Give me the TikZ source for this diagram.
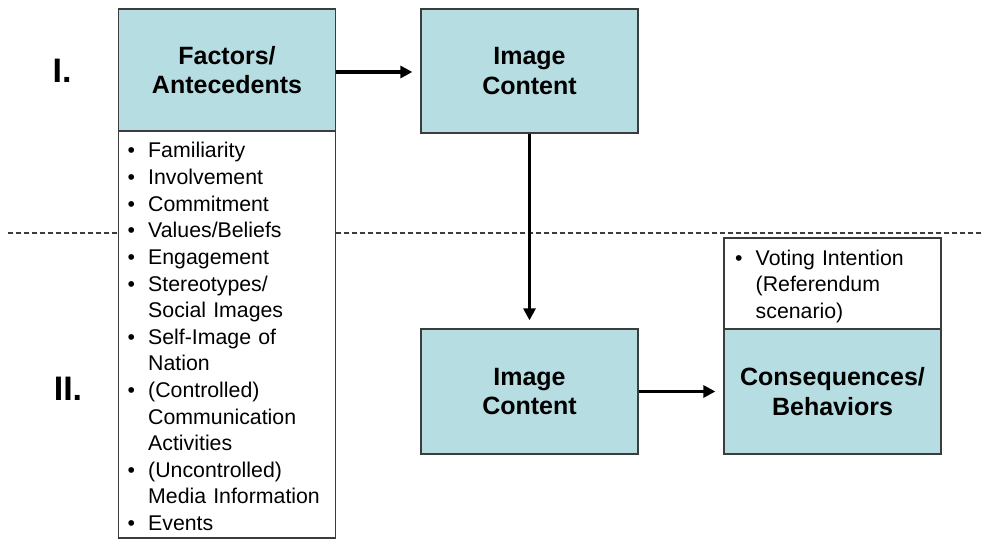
\documentclass[tikz,border=0pt]{standalone}
\usepackage{fontspec}
\setmainfont{Liberation Sans}
\usetikzlibrary{arrows.meta}
\definecolor{boxteal}{RGB}{182,221,226}
\definecolor{edge}{RGB}{60,60,60}
\newcommand{\bul}{\makebox[20.5pt][l]{•}}
\newcommand{\ind}{\hspace*{20.5pt}}
\tikzset{
  titlebox/.style={draw=edge, line width=1.3pt, fill=boxteal, minimum width=217pt, align=center,
    font=\fontsize{25}{29.5}\selectfont\bfseries, inner sep=0pt},
  listbox/.style={draw=edge, line width=1.3pt, fill=white, minimum width=217pt, inner sep=0pt},
  listtext/.style={anchor=base west, inner sep=0pt, align=left,
    font=\fontsize{21.3}{26.6}\selectfont},
  flow/.style={line width=3.6pt, -{Triangle[length=12pt,width=12pt]}, shorten >=8pt},
  divider/.style={draw=edge, line width=1.2pt, dash pattern=on 5pt off 3pt},
  phase/.style={font=\fontsize{34}{34}\selectfont\bfseries, anchor=base, inner sep=0pt}
}
\begin{document}
\begin{tikzpicture}[x=1pt,y=-1pt]
\useasboundingbox (0,0) rectangle (984,540);
% divider
\coordinate (dl) at (8,233);
\coordinate (dr) at (984,233);
\draw[divider] (dl) -- (dr);
% phase labels
\node[phase] (p1) at (62,83) {I.};
\node[phase] (p2) at (68,400) {II.};
% factors
\node[titlebox, minimum height=122pt] (fac) at (227,70) {Factors/\\Antecedents};
\node[listbox, minimum height=407pt] (facl) at (227,334.5) {};
\node[listtext, text width=200pt] (facltxt) at (127.5,158) {\bul Familiarity\\
\bul Involvement\\
\bul Commitment\\
\bul Values/Beliefs\\
\bul Engagement\\
\bul Stereotypes/\\
\ind Social Images\\
\bul Self-Image of\\
\ind Nation\\
\bul (Controlled)\\
\ind Communication\\
\ind Activities\\
\bul (Uncontrolled)\\
\ind Media Information\\
\bul Events};
% image content boxes
\node[titlebox, minimum height=124pt] (img1) at (529.5,71) {Image\\Content};
\node[titlebox, minimum height=125pt] (img2) at (529.5,391.5) {Image\\Content};
% consequences
\node[listbox, minimum height=91pt] (conl) at (832.5,283.5) {};
\node[listtext, text width=200pt] (conltxt) at (735,265) {\bul Voting Intention\\
\ind (Referendum\\
\ind scenario)};
\node[titlebox, minimum height=125pt] (con) at (832.5,391.5) {Consequences/\\Behaviors};
% connectors
\draw[flow] (fac.east |- 0,72) -- (img1.west |- 0,72);
\draw[flow] (img1.south) -- (img2.north);
\draw[flow] (img2.east) -- (con.west);
\end{tikzpicture}
\end{document}
